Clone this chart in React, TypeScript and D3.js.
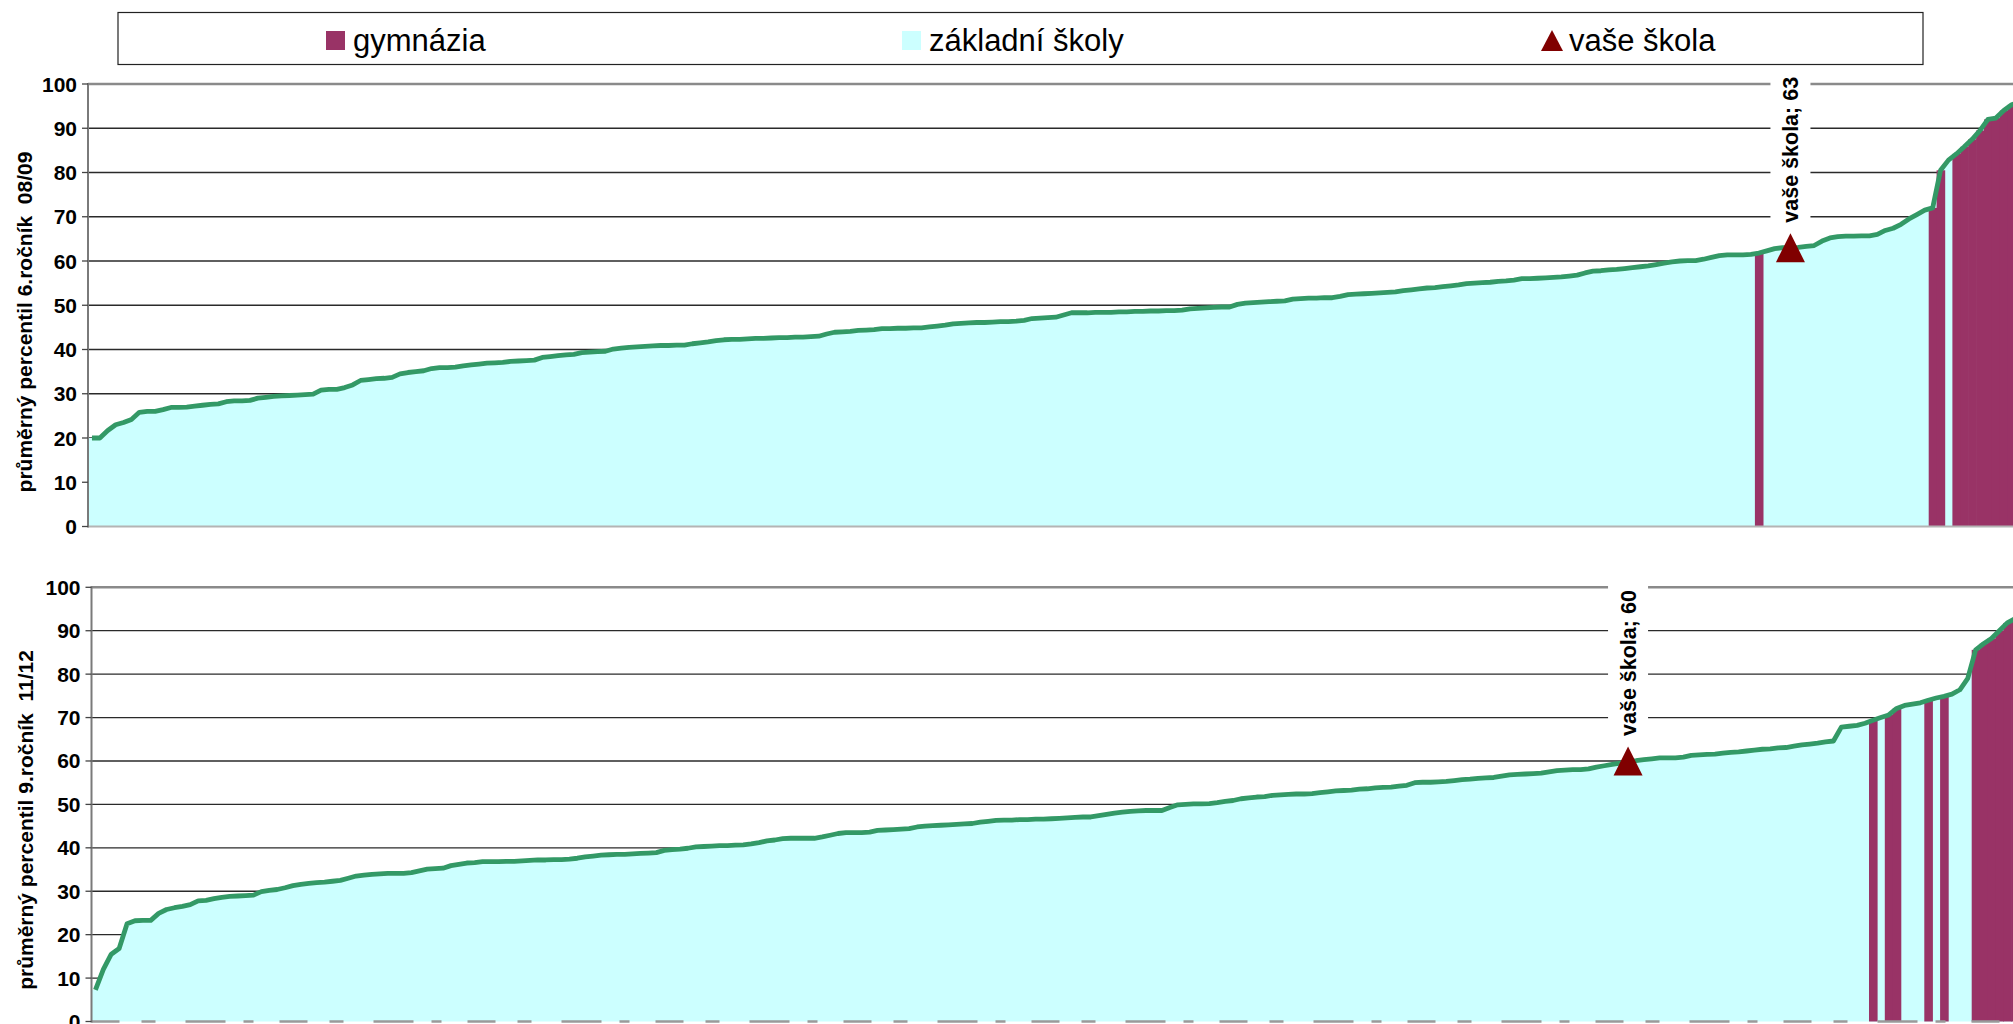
import React from 'react';
import * as d3 from 'd3';

const W = 2013;
const H = 1024;
const BW = 7.9;
const FONT = '"Liberation Sans", Arial, Helvetica, sans-serif';

const yTicks = [0, 10, 20, 30, 40, 50, 60, 70, 80, 90, 100];
const legendLabels = ['gymnázia', 'základní školy', 'vaše škola'];

// 6. ročník 08/09 – average percentile of each school, sorted
const top6Values = [
  20, 20, 21.7, 23, 23.5, 24.2, 25.8, 26, 26, 26.4,
  26.9, 26.9, 27, 27.2, 27.4, 27.6, 27.7, 28.2, 28.4, 28.4,
  28.5, 29, 29.2, 29.4, 29.5, 29.6, 29.7, 29.8, 29.9, 30.8,
  31, 31, 31.4, 32, 33, 33.2, 33.4, 33.5, 33.7, 34.5,
  34.8, 35, 35.2, 35.7, 35.9, 35.9, 36, 36.3, 36.5, 36.7,
  36.9, 37, 37.1, 37.3, 37.4, 37.5, 37.6, 38.2, 38.4, 38.6,
  38.8, 38.9, 39.3, 39.4, 39.5, 39.6, 40.1, 40.3, 40.5, 40.6,
  40.7, 40.8, 40.9, 40.9, 41, 41, 41.3, 41.5, 41.7, 42,
  42.2, 42.3, 42.3, 42.4, 42.5, 42.5, 42.6, 42.7, 42.7, 42.8,
  42.8, 42.9, 43, 43.5, 43.9, 44, 44.1, 44.3, 44.4, 44.5,
  44.7, 44.7, 44.8, 44.8, 44.9, 44.9, 45.1, 45.3, 45.5, 45.8,
  45.9, 46, 46.1, 46.1, 46.2, 46.3, 46.3, 46.4, 46.6, 47,
  47.1, 47.2, 47.3, 47.8, 48.3, 48.3, 48.3, 48.4, 48.4, 48.4,
  48.5, 48.5, 48.6, 48.6, 48.7, 48.7, 48.8, 48.8, 48.9, 49.2,
  49.3, 49.4, 49.5, 49.6, 49.6, 50.2, 50.5, 50.6, 50.7, 50.8,
  50.9, 51, 51.4, 51.5, 51.6, 51.6, 51.7, 51.7, 52, 52.4,
  52.5, 52.6, 52.7, 52.8, 52.9, 53, 53.3, 53.5, 53.7, 53.9,
  54, 54.2, 54.4, 54.6, 54.9, 55, 55.1, 55.2, 55.4, 55.5,
  55.7, 56, 56, 56.1, 56.2, 56.3, 56.4, 56.6, 56.8, 57.3,
  57.7, 57.8, 58, 58.1, 58.3, 58.5, 58.7, 58.9, 59.2, 59.5,
  59.8, 60, 60.1, 60.1, 60.4, 60.8, 61.2, 61.4, 61.4, 61.4,
  61.5, 61.8, 62.3, 62.8, 63, 63, 63.1, 63.3, 63.5, 64.5,
  65.2, 65.5, 65.6, 65.6, 65.7, 65.7, 66, 66.9, 67.4, 68.3,
  69.5, 70.5, 71.5, 72, 80.5, 82.8, 84.2, 85.8, 87.5, 89.5,
  92, 92.3, 94, 95.3, 96,
];
const top6Gym = [211, 233, 234, 236, 237, 238, 239, 240, 241, 242, 243, 244];
const top6School = 215;
const top6SchoolLabel = 'vaše škola; 63';
const top6Title = 'průměrný percentil 6.ročník  08/09';

// 9. ročník 11/12
const bot9Values = [
  7.3, 12, 15.5, 16.8, 22.5, 23.2, 23.3, 23.3, 24.9, 25.8,
  26.2, 26.5, 26.9, 27.8, 27.9, 28.3, 28.6, 28.8, 28.9, 29,
  29.1, 29.9, 30.2, 30.4, 30.8, 31.3, 31.6, 31.8, 32, 32.1,
  32.3, 32.5, 33, 33.5, 33.7, 33.9, 34, 34.1, 34.1, 34.1,
  34.3, 34.7, 35.1, 35.2, 35.3, 35.9, 36.2, 36.5, 36.6, 36.8,
  36.8, 36.8, 36.9, 36.9, 37, 37.1, 37.2, 37.2, 37.3, 37.3,
  37.4, 37.6, 37.9, 38.1, 38.3, 38.4, 38.5, 38.5, 38.6, 38.7,
  38.8, 38.9, 39.4, 39.6, 39.7, 39.9, 40.2, 40.3, 40.4, 40.5,
  40.5, 40.6, 40.7, 40.9, 41.2, 41.6, 41.8, 42.1, 42.2, 42.2,
  42.2, 42.2, 42.5, 42.9, 43.3, 43.5, 43.5, 43.5, 43.6, 44,
  44.1, 44.2, 44.3, 44.4, 44.8, 45, 45.1, 45.2, 45.3, 45.4,
  45.5, 45.6, 45.9, 46.1, 46.3, 46.4, 46.4, 46.5, 46.5, 46.6,
  46.6, 46.7, 46.8, 46.9, 47, 47.1, 47.1, 47.4, 47.7, 48,
  48.2, 48.4, 48.5, 48.6, 48.6, 48.6, 49.3, 49.9, 50, 50.1,
  50.1, 50.2, 50.4, 50.7, 50.9, 51.3, 51.5, 51.7, 51.8, 52.1,
  52.2, 52.3, 52.4, 52.4, 52.5, 52.7, 52.9, 53.1, 53.2, 53.3,
  53.5, 53.6, 53.8, 53.9, 54, 54.2, 54.4, 55, 55.1, 55.1,
  55.2, 55.3, 55.5, 55.7, 55.8, 56, 56.1, 56.2, 56.5, 56.8,
  56.9, 57, 57.1, 57.2, 57.5, 57.8, 57.9, 58, 58, 58.2,
  58.6, 58.9, 59.2, 59.5, 60, 60.1, 60.3, 60.5, 60.7, 60.7,
  60.7, 60.9, 61.3, 61.4, 61.5, 61.6, 61.8, 62, 62.1, 62.3,
  62.5, 62.7, 62.8, 63, 63.1, 63.4, 63.7, 63.9, 64.1, 64.4,
  64.6, 67.8, 68, 68.2, 68.7, 69.4, 70, 70.6, 72.1, 72.8,
  73.1, 73.4, 74, 74.5, 74.9, 75.4, 76.4, 79, 85.6, 87,
  88.2, 90, 91.8, 92.8,
];
const bot9Gym = [225, 227, 228, 232, 234, 238, 239, 240, 241, 242, 243];
const bot9School = 194;
const bot9SchoolLabel = 'vaše škola; 60';
const bot9Title = 'průměrný percentil 9.ročník  11/12';

const COL_GYM = '#993366';
const COL_ZS = '#CCFFFF';
const COL_LINE = '#339966';
const COL_SCHOOL = '#800000';

type PanelProps = {
  values: number[];
  gym: number[];
  school: number;
  label: string;
  title: string;
  x0: number;
  yTop: number;
  yBottom: number;
  titleX: number;
  titleY: number;
  bottomDashed?: boolean;
};

function Panel(p: PanelProps) {
  const n = p.values.length;
  const x = d3.scaleBand<number>().domain(d3.range(n)).range([p.x0, p.x0 + n * BW]).padding(0);
  const y = d3.scaleLinear().domain([0, 100]).range([p.yBottom, p.yTop]);
  const cx = (i: number) => (x(i) as number) + x.bandwidth() / 2;

  const pts: [number, number][] = [[p.x0, p.values[0]], ...p.values.map((v, i) => [cx(i), v] as [number, number])];
  const area = d3.area<[number, number]>().x(d => d[0]).y0(y(0)).y1(d => y(d[1]))(pts) || '';
  const line = d3.line<number>().x((_, i) => cx(i)).y(d => y(d))(p.values) || '';

  const sx = cx(p.school);
  const sy = y(p.values[p.school]);
  const tri = 14.5;

  return (
    <g>
      {yTicks.filter(t => t > 0 && t < 100).map(t => (
        <line key={t} x1={p.x0} x2={W} y1={y(t)} y2={y(t)} stroke="#2a2a2a" strokeWidth={1.3} />
      ))}
      <line x1={p.x0} x2={W} y1={y(100)} y2={y(100)} stroke="#8a8a8a" strokeWidth={2.5} />
      <path d={area} fill={COL_ZS} />
      {p.gym.map(i => (
        <rect key={i} x={x(i)} y={y(p.values[i])} width={x.bandwidth() + 0.7} height={y(0) - y(p.values[i])} fill={COL_GYM} />
      ))}
      <line x1={p.x0} x2={W} y1={y(0)} y2={y(0)} stroke={p.bottomDashed ? '#9a9a9a' : '#b4b4b4'} strokeWidth={p.bottomDashed ? 2.5 : 2}
        strokeDasharray={p.bottomDashed ? '28 22 14 30 40 18 10 26' : undefined} />
      <path d={line} fill="none" stroke={COL_LINE} strokeWidth={4.8} strokeLinejoin="round" />
      <line x1={p.x0} x2={p.x0} y1={y(0) + 1} y2={y(100) - 1} stroke="#7a7a7a" strokeWidth={2} />
      {yTicks.map(t => (
        <g key={t}>
          <line x1={p.x0 - 6} x2={p.x0} y1={y(t)} y2={y(t)} stroke="#444" strokeWidth={1.3} />
          <text x={p.x0 - 11} y={y(t)} textAnchor="end" dominantBaseline="central"
            fontFamily={FONT} fontWeight="bold" fontSize={21} fill="#000">{t}</text>
        </g>
      ))}
      <text transform={`translate(${p.titleX},${p.titleY}) rotate(-90)`} textAnchor="middle" dominantBaseline="central"
        fontFamily={FONT} fontWeight="bold" fontSize={21} fill="#000" style={{ whiteSpace: 'pre' }}>{p.title}</text>
      <rect x={sx - 20} y={sy - 178} width={40} height={156} fill="#fff" />
      <text transform={`translate(${sx + 1},${sy - 25}) rotate(-90)`} textAnchor="start" dominantBaseline="central"
        fontFamily={FONT} fontWeight="bold" fontSize={21.5} fill="#000">{p.label}</text>
      <path d={`M${sx},${sy - tri} L${sx + tri},${sy + tri} L${sx - tri},${sy + tri} Z`} fill={COL_SCHOOL} />
    </g>
  );
}

export default function App() {
  const legendX = [326, 902, 1541];
  return (
    <svg width={W} height={H} viewBox={`0 0 ${W} ${H}`}
      style={{ position: 'absolute', left: 0, top: 0, display: 'block', background: '#fff' }}>
      <rect x={0} y={0} width={W} height={H} fill="#fff" />
      <rect x={118} y={12.5} width={1805} height={52} fill="#fff" stroke="#222" strokeWidth={1.2} />
      <rect x={legendX[0]} y={31} width={19} height={19} fill={COL_GYM} />
      <rect x={legendX[1]} y={31} width={19} height={19} fill={COL_ZS} />
      <path d={`M${legendX[2] + 11},30 L${legendX[2] + 22},51 L${legendX[2]},51 Z`} fill={COL_SCHOOL} />
      {legendLabels.map((l, i) => (
        <text key={l} x={legendX[i] + (i === 2 ? 28 : 27)} y={51} fontFamily={FONT} fontSize={31} fill="#000">{l}</text>
      ))}
      <Panel values={top6Values} gym={top6Gym} school={top6School} label={top6SchoolLabel} title={top6Title}
        x0={88} yTop={84} yBottom={526.5} titleX={24} titleY={322} />
      <Panel values={bot9Values} gym={bot9Gym} school={bot9School} label={bot9SchoolLabel} title={bot9Title}
        x0={91.5} yTop={587.3} yBottom={1021.5} titleX={25.5} titleY={820} bottomDashed />
    </svg>
  );
}
